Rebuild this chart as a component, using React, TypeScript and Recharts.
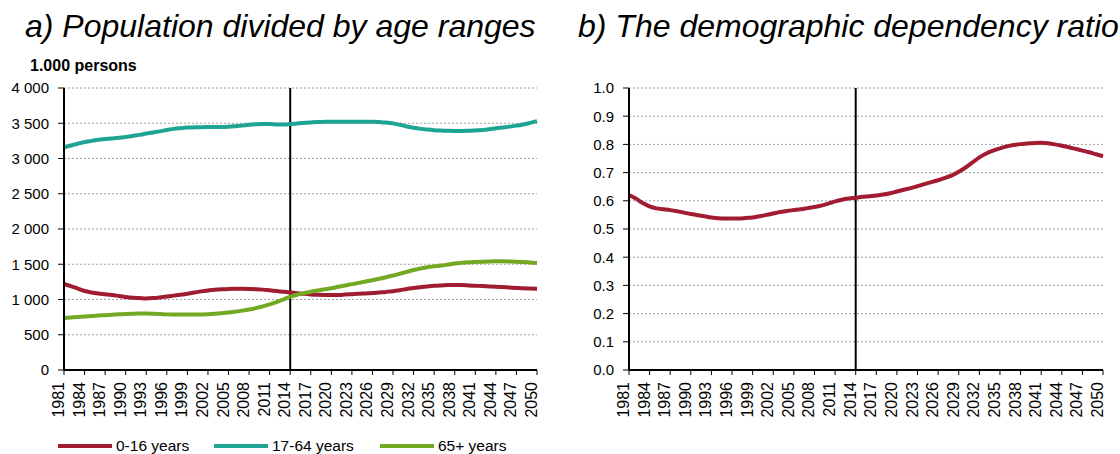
import React from "react";
import { CartesianGrid, Line, LineChart, ReferenceLine, XAxis, YAxis } from "recharts";

const years = [
  1981, 1982, 1983, 1984, 1985, 1986, 1987, 1988, 1989, 1990,
  1991, 1992, 1993, 1994, 1995, 1996, 1997, 1998, 1999, 2000,
  2001, 2002, 2003, 2004, 2005, 2006, 2007, 2008, 2009, 2010,
  2011, 2012, 2013, 2014, 2015, 2016, 2017, 2018, 2019, 2020,
  2021, 2022, 2023, 2024, 2025, 2026, 2027, 2028, 2029, 2030,
  2031, 2032, 2033, 2034, 2035, 2036, 2037, 2038, 2039, 2040,
  2041, 2042, 2043, 2044, 2045, 2046, 2047, 2048, 2049, 2050,
];

// 1.000 persons
const age0to16 = [
  1220, 1190, 1155, 1120, 1100, 1085, 1075, 1065, 1050, 1035,
  1025, 1020, 1015, 1020, 1030, 1042, 1055, 1068, 1082, 1098,
  1115, 1128, 1138, 1145, 1150, 1152, 1152, 1150, 1146, 1140,
  1130, 1120, 1110, 1100, 1090, 1080, 1072, 1066, 1064, 1063,
  1065, 1070, 1075, 1080, 1086, 1092, 1100, 1108, 1118, 1132,
  1148, 1162, 1175, 1186, 1195, 1200, 1204, 1206, 1205, 1200,
  1195, 1190, 1186, 1182, 1176, 1170, 1164, 1158, 1155, 1153,
];

const age17to64 = [
  3160, 3185, 3210, 3235, 3250, 3265, 3275, 3285, 3295, 3305,
  3320, 3335, 3355, 3370, 3385, 3405, 3420, 3430, 3438, 3442,
  3445, 3446, 3447, 3448, 3450, 3458, 3468, 3478, 3486, 3490,
  3488, 3484, 3482, 3488, 3498, 3505, 3512, 3518, 3520, 3522,
  3522, 3522, 3520, 3522, 3522, 3520, 3516, 3510, 3498, 3478,
  3455, 3435, 3420, 3410, 3402, 3396, 3392, 3390, 3390, 3392,
  3398, 3405, 3415, 3428, 3440, 3452, 3466, 3482, 3505, 3530,
];

const age65plus = [
  738, 745, 752, 758, 765, 772, 778, 784, 790, 795,
  798, 800, 800, 798, 794, 789, 787, 786, 786, 787,
  789, 792, 797, 805, 815, 828, 842, 858, 878, 902,
  930, 962, 1000, 1040, 1068, 1090, 1110, 1128, 1144, 1160,
  1180, 1198, 1218, 1236, 1255, 1274, 1294, 1316, 1340, 1366,
  1392, 1418, 1440, 1458, 1470, 1482, 1496, 1510, 1520, 1528,
  1533, 1537, 1540, 1541, 1541, 1540, 1537, 1532, 1526, 1518,
];

const dependencyRatio = [
  0.62, 0.608, 0.592, 0.58, 0.573, 0.57, 0.567, 0.563, 0.558, 0.553,
  0.549, 0.545, 0.541, 0.538, 0.537, 0.537, 0.537, 0.539, 0.541, 0.545,
  0.55, 0.555, 0.56, 0.564, 0.567, 0.57, 0.574, 0.578, 0.583, 0.59,
  0.598, 0.604, 0.608, 0.611, 0.614, 0.616, 0.619, 0.622, 0.627, 0.633,
  0.639, 0.645, 0.652, 0.659, 0.666, 0.673, 0.681, 0.69, 0.703, 0.718,
  0.736, 0.754, 0.768, 0.778, 0.786, 0.793, 0.798, 0.801, 0.803, 0.805,
  0.806, 0.804, 0.8, 0.795, 0.79, 0.784, 0.778, 0.772, 0.765, 0.758,
];

const yearTicks = [
  1981, 1984, 1987, 1990, 1993, 1996, 1999, 2002, 2005, 2008, 2011, 2014,
  2017, 2020, 2023, 2026, 2029, 2032, 2035, 2038, 2041, 2044, 2047, 2050,
];
const populationTicks = [0, 500, 1000, 1500, 2000, 2500, 3000, 3500, 4000];
const ratioTicks = [0, 0.1, 0.2, 0.3, 0.4, 0.5, 0.6, 0.7, 0.8, 0.9, 1.0];
const splitYear = 2014;

const RED = "#a11c31";
const TEAL = "#1ea493";
const GREEN = "#73a823";

const populationData = years.map((year, i) => ({
  year,
  young: age0to16[i],
  working: age17to64[i],
  old: age65plus[i],
}));
const ratioData = years.map((year, i) => ({ year, ratio: dependencyRatio[i] }));

const legendItems = [
  { label: "0-16 years", color: RED, left: 58 },
  { label: "17-64 years", color: TEAL, left: 214 },
  { label: "65+ years", color: GREEN, left: 380 },
];

function formatThousands(v: number) {
  if (v < 1000) return String(v);
  return `${Math.floor(v / 1000)} ${String(v % 1000).padStart(3, "0")}`;
}

function YearTick(props: any) {
  const { x, y, payload } = props;
  return (
    <g transform={`translate(${x},${y})`}>
      <text transform="rotate(-90)" textAnchor="end" fontSize={16} fill="#000">
        {payload.value}
      </text>
    </g>
  );
}

const xAxisProps = {
  dataKey: "year",
  type: "number" as const,
  domain: [1981, 2050],
  ticks: yearTicks,
  interval: 0 as const,
  tick: <YearTick />,
  tickSize: 5,
  tickMargin: 7,
  height: 84,
  axisLine: { stroke: "#000", strokeWidth: 2 },
  tickLine: { stroke: "#000" },
};

const titleStyle: React.CSSProperties = {
  position: "absolute",
  top: 10,
  fontSize: 32,
  lineHeight: "32px",
  fontStyle: "italic",
  whiteSpace: "nowrap",
  color: "#000",
};

export default function App() {
  return (
    <div
      style={{
        position: "absolute",
        left: 0,
        top: 0,
        width: 1120,
        height: 454,
        overflow: "hidden",
        background: "#fff",
        fontFamily: "'Liberation Sans', Arial, sans-serif",
      }}
    >
      <div style={{ ...titleStyle, left: 25 }}>a) Population divided by age ranges</div>
      <div style={{ ...titleStyle, left: 578 }}>b) The demographic dependency ratio</div>
      <div
        style={{ position: "absolute", left: 30, top: 58, fontSize: 16, lineHeight: "16px", fontWeight: "bold" }}
      >
        1.000 persons
      </div>

      <div style={{ position: "absolute", left: 0, top: 0 }}>
        <LineChart width={560} height={454} data={populationData} margin={{ top: 88, right: 23, left: 0, bottom: 0 }}>
          <CartesianGrid vertical={false} strokeDasharray="2 2" stroke="#a0a0a0" />
          <XAxis {...xAxisProps} />
          <YAxis
            domain={[0, 4000]}
            ticks={populationTicks}
            tickFormatter={formatThousands}
            width={64}
            tickSize={6}
            tickMargin={9}
            tick={{ fill: "#000", fontSize: 15 }}
            axisLine={{ stroke: "#000", strokeWidth: 2 }}
            tickLine={{ stroke: "#000" }}
          />
          <ReferenceLine x={splitYear} stroke="#000" strokeWidth={2} />
          <Line type="monotone" dataKey="young" stroke={RED} strokeWidth={4} dot={false} isAnimationActive={false} />
          <Line type="monotone" dataKey="working" stroke={TEAL} strokeWidth={4} dot={false} isAnimationActive={false} />
          <Line type="monotone" dataKey="old" stroke={GREEN} strokeWidth={4} dot={false} isAnimationActive={false} />
        </LineChart>
      </div>

      <div style={{ position: "absolute", left: 560, top: 0 }}>
        <LineChart width={560} height={454} data={ratioData} margin={{ top: 88, right: 17, left: 0, bottom: 0 }}>
          <CartesianGrid vertical={false} strokeDasharray="2 2" stroke="#a0a0a0" />
          <XAxis {...xAxisProps} />
          <YAxis
            domain={[0, 1]}
            ticks={ratioTicks}
            tickFormatter={(v: number) => v.toFixed(1)}
            width={69}
            tickSize={6}
            tickMargin={9}
            tick={{ fill: "#000", fontSize: 15 }}
            axisLine={{ stroke: "#000", strokeWidth: 2 }}
            tickLine={{ stroke: "#000" }}
          />
          <ReferenceLine x={splitYear} stroke="#000" strokeWidth={2} />
          <Line type="monotone" dataKey="ratio" stroke={RED} strokeWidth={4} dot={false} isAnimationActive={false} />
        </LineChart>
      </div>

      {legendItems.map((item) => (
        <div
          key={item.label}
          style={{
            position: "absolute",
            left: item.left,
            top: 437,
            height: 18,
            display: "flex",
            alignItems: "center",
            fontSize: 15.5,
            whiteSpace: "nowrap",
          }}
        >
          <div style={{ width: 54, height: 4, background: item.color, marginRight: 4 }} />
          <span>{item.label}</span>
        </div>
      ))}
    </div>
  );
}
